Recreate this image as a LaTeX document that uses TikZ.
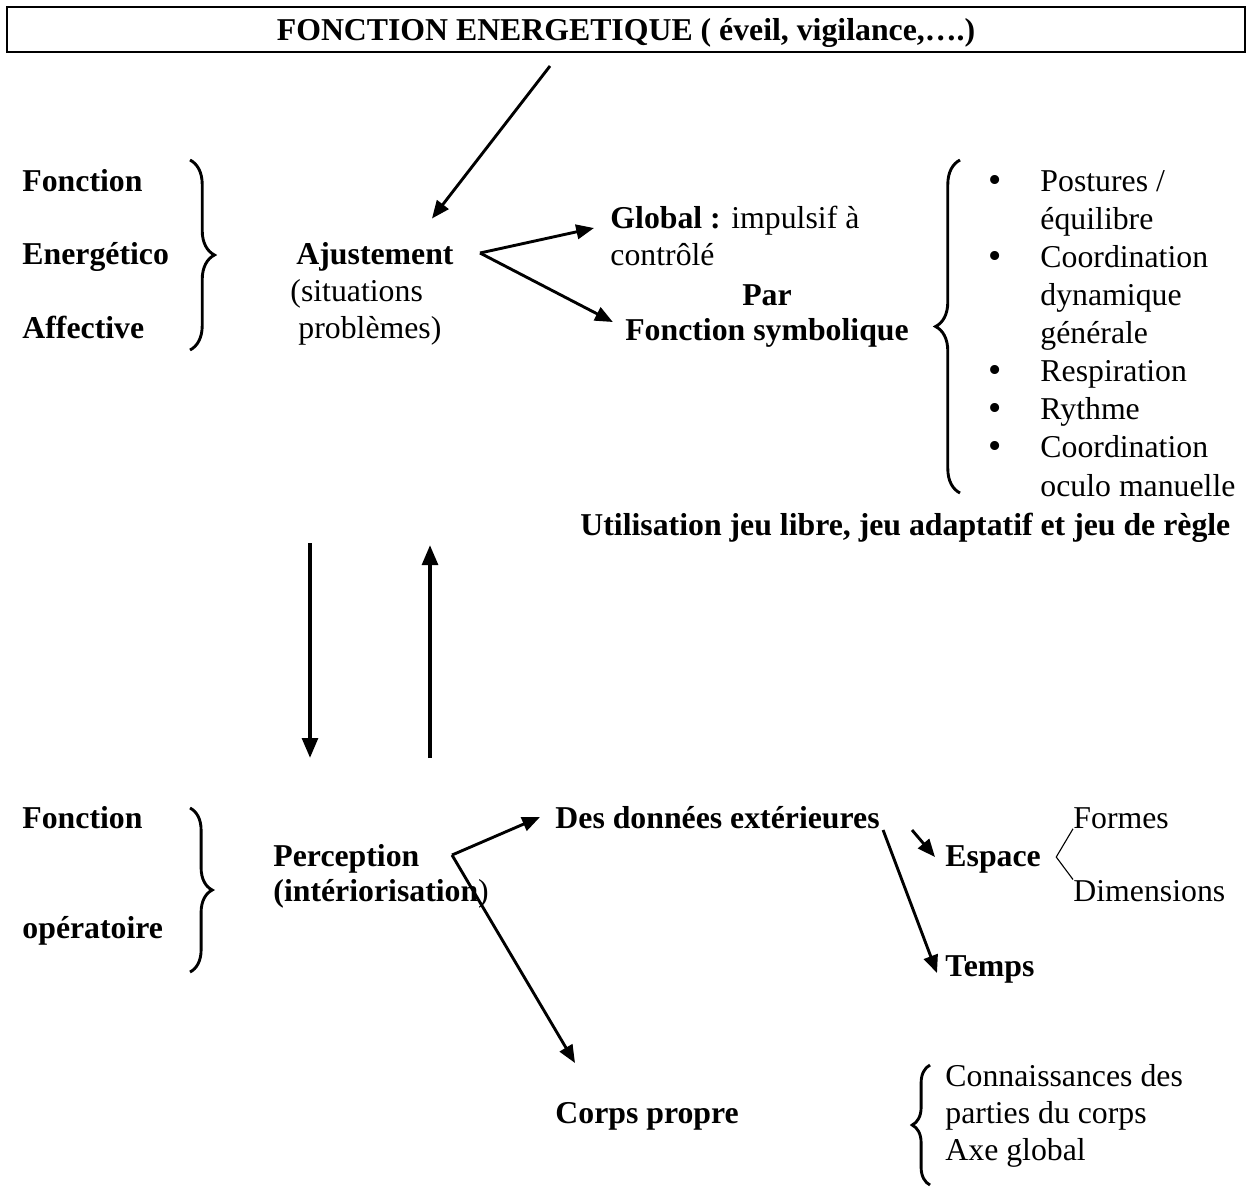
\documentclass[tikz,border=0pt]{standalone}
\usepackage{fontspec}
\setmainfont{Liberation Serif}
\usetikzlibrary{arrows.meta,positioning,calc,decorations.pathreplacing}
\tikzset{
  txt/.style  = {inner sep=0pt, anchor=base west, align=left,
                 font=\fontsize{14.3}{16.65}\selectfont},
  bld/.style  = {txt, font=\fontsize{14.3}{16.65}\selectfont\bfseries},
  arr/.style  = {-{Triangle[length=8pt,width=6.5pt]}, line width=1.3pt},
  varr/.style = {-{Triangle[length=9pt,width=7pt]}, line width=1.8pt},
  brc/.style  = {decorate, decoration={brace, amplitude=#1}, line width=1.3pt},
  lnk/.style  = {line width=0.5pt},
}

\begin{document}
\begin{tikzpicture}[x=0.45pt,y=-0.45pt]
  \useasboundingbox (0,0) rectangle (1250,1189);
  % title box
  \node[draw, line width=0.9pt, minimum width=557pt, minimum height=20.25pt,
        inner sep=0pt, text height=12.5pt, text depth=2.3pt,
        font=\fontsize{14.3}{16}\selectfont\bfseries] (energ) at (626,29.5)
    {FONCTION ENERGETIQUE ( éveil, vigilance,….)};

  % upper block
  \node[bld] (fe1) at (22,191) {Fonction};
  \node[bld] (fe2) at (22,264) {Energético};
  \node[bld] (fe3) at (22,338) {Affective};
  \draw[brc=11pt] (190,160) -- (190,350);

  % multi-line nodes sit on their last baseline
  \node[txt] (ajust) at (290,338)
    {\hspace{2.7pt}\textbf{Ajustement}\\(situations\\\hspace{3.6pt}problèmes)};
  \draw[arr] ($(energ.south)+(-76,13)$) -- ($(ajust.north)+(60,-23)$);

  \node[txt] (glob) at (610,265) {\textbf{Global :} impulsif à\\contrôlé};
  \node[bld, anchor=base] (par) at (767,305) {Par};
  \node[bld, anchor=base] (fsym) at (767,340) {Fonction symbolique};
  \coordinate (fk1) at ($(ajust.base west)+(190,-85)$);
  \draw[arr] (fk1) -- ($(glob.base west)+(-16,-37)$);
  \draw[arr] (fk1) -- ($(fsym.base west)+(-12,-18)$);

  \draw[brc=11pt] (960,493) -- (960,160);
  \node[txt, font=\fontsize{14.3}{17.15}\selectfont] (soins) at (1040,496)
    {Postures /\\équilibre\\Coordination\\dynamique\\générale\\Respiration\\Rythme\\Coordination\\oculo manuelle};
  \foreach \k in {0,2,5,6,7}{
    \node[txt, anchor=base, font=\fontsize{17}{17}\selectfont] (bul\k) at (995,192+38.1*\k) {\textbullet};
  }
  \node[bld] (util) at (580,535) {Utilisation jeu libre, jeu adaptatif et jeu de règle};

  % vertical arrows
  \coordinate (dnA) at (310,543);
  \coordinate (dnB) at (310,758);
  \coordinate (upA) at (430,758);
  \coordinate (upB) at (430,545);
  \draw[varr] (dnA) -- (dnB);
  \draw[varr] (upA) -- (upB);

  % lower block
  \node[bld] (fo1) at (22,828) {Fonction};
  \node[bld] (fo2) at (22,938) {opératoire};
  \draw[brc=10pt] (190,808) -- (190,972);

  \node[txt, font=\fontsize{14.3}{15.75}\selectfont] (percep) at (273,901)
    {\textbf{Perception}\\\textbf{(intériorisation})};
  \coordinate (fk2) at (452,855);
  \node[bld] (donn) at (555,828) {Des données extérieures};
  \node[bld] (corps) at (555,1123) {Corps propre};
  \draw[arr] (fk2) -- ($(donn.base west)+(-15,-11)$);
  \draw[arr] (fk2) -- ($(corps.base west)+(20,-60)$);

  \node[bld] (esp) at (945,866) {Espace};
  \node[bld] (temps) at (945,976) {Temps};
  \draw[arr] ($(donn.base east)+(3,2)$) -- ($(temps.base west)+(-8,-3)$);
  \draw[arr] ($(esp.base west)+(-33,-36)$) -- ($(esp.base west)+(-10,-9)$);

  \node[txt] (formes) at (1073,828) {Formes};
  \node[txt] (dimens) at (1073,901) {Dimensions};
  \coordinate (vx) at ($(esp.base east)+(15,-9)$);
  \draw[lnk] (formes.south west) -- (vx) -- (dimens.north west);

  \draw[brc=8pt] (930,1185) -- (930,1065);
  \node[txt] (conn) at (945,1160) {Connaissances des\\parties du corps\\Axe global};
\end{tikzpicture}
\end{document}
